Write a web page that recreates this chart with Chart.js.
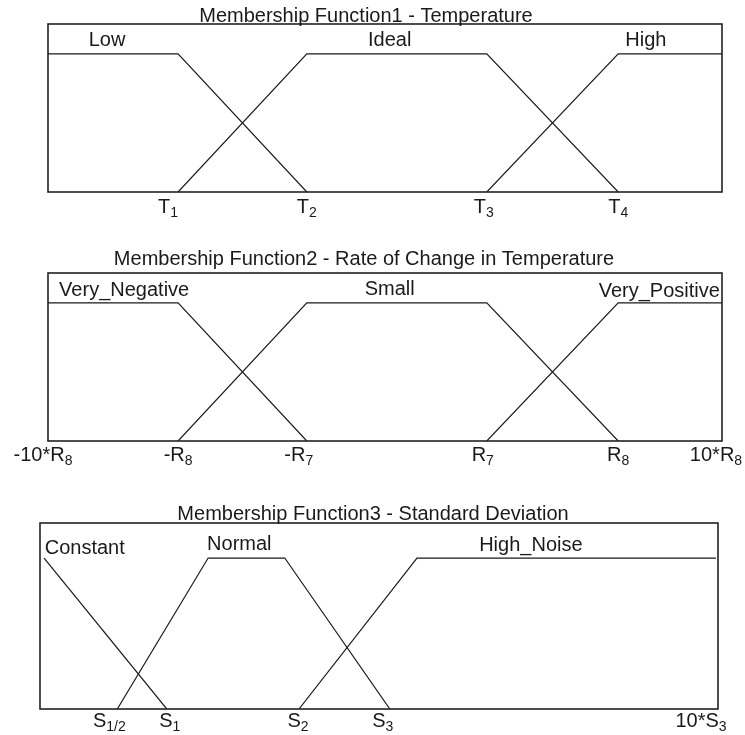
<!DOCTYPE html>
<html>
<head>
<meta charset="utf-8">
<script src="https://cdn.jsdelivr.net/npm/chart.js@4/dist/chart.umd.min.js"></script>
<style>
  html, body { margin: 0; padding: 0; background: #fff; }
  #wrap { position: relative; width: 745px; height: 735px; }
  canvas { position: absolute; left: 0; }
</style>
</head>
<body>
<div id="wrap">
  <canvas id="mf1" width="745" height="240" style="top:0px"></canvas>
  <canvas id="mf2" width="745" height="240" style="top:240px"></canvas>
  <canvas id="mf3" width="745" height="255" style="top:480px"></canvas>
</div>
<script>
// ---- data (x in arbitrary axis units 0..100, y = membership degree) ----

// Membership Function1 - Temperature
const tempTickBase = ['T', 'T', 'T', 'T']
const tempTickSub = ['1', '2', '3', '4']
const tempTickValues = [19.3, 38.4, 65.1, 84.6]
const tempSets = ['Low', 'Ideal', 'High']
const tempLowX = [0, 19.3, 38.4]
const tempLowY = [1, 1, 0]
const tempIdealX = [19.3, 38.4, 65.1, 84.6]
const tempIdealY = [0, 1, 1, 0]
const tempHighX = [65.1, 84.6, 100]
const tempHighY = [0, 1, 1]
const tempSetCenters = [8.75, 50.7, 88.7]

// Membership Function2 - Rate of Change in Temperature
const rateTickBase = ['-10*R', '-R', '-R', 'R', 'R', '10*R']
const rateTickSub = ['8', '8', '7', '7', '8', '8']
const rateTickValues = [0, 19.3, 38.4, 65.1, 84.6, 100]
const rateSets = ['Very_Negative', 'Small', 'Very_Positive']
const rateNegX = [0, 19.3, 38.4]
const rateNegY = [1, 1, 0]
const rateSmallX = [19.3, 38.4, 65.1, 84.6]
const rateSmallY = [0, 1, 1, 0]
const ratePosX = [65.1, 84.6, 100]
const ratePosY = [0, 1, 1]
const rateSetCenters = [11.3, 50.7, 90.7]

// Membership Function3 - Standard Deviation
const sdTickBase = ['S', 'S', 'S', 'S', '10*S']
const sdTickSub = ['1/2', '1', '2', '3', '3']
const sdTickValues = [11.4, 18.7, 38.2, 51.6, 100]
const sdSets = ['Constant', 'Normal', 'High_Noise']
const sdConstX = [0.6, 18.7]
const sdConstY = [1, 0]
const sdNormalX = [11.4, 24.8, 36.1, 51.6]
const sdNormalY = [0, 1, 1, 0]
const sdNoiseX = [38.2, 55.6, 99.7]
const sdNoiseY = [0, 1, 1]
const sdSetCenters = [6.6, 29.4, 72.4]

// ---- drawing ----
const FONT = '"Liberation Sans", Arial, Helvetica, sans-serif'
const INK = '#1a1a1a'

function pts(xs, ys){
  return xs.map((x, i) => ({x: x, y: ys[i]}))
}

function lineSet(xs, ys){
  return {
    data: pts(xs, ys),
    borderColor: INK,
    borderWidth: 1.2,
    pointRadius: 0,
    fill: false,
    tension: 0
  }
}

// text with an optional subscript, centred on x
function drawSubText(ctx, base, sub, x, y){
  ctx.font = '20px ' + FONT
  const wb = ctx.measureText(base).width
  ctx.font = '14px ' + FONT
  const ws = sub ? ctx.measureText(sub).width : 0
  let left = x - (wb + ws) / 2
  ctx.textAlign = 'left'
  ctx.textBaseline = 'alphabetic'
  ctx.font = '20px ' + FONT
  ctx.fillText(base, left, y)
  if (sub){
    ctx.font = '14px ' + FONT
    ctx.fillText(sub, left + wb, y + 4)
  }
}

const fuzzyDecor = {
  id: 'fuzzyDecor',
  afterDatasetsDraw(chart, args, o){
    const ctx = chart.ctx
    const a = chart.chartArea
    const xs = chart.scales.x, ys = chart.scales.y
    ctx.save()
    // frame
    ctx.strokeStyle = '#222'
    ctx.lineWidth = 1.6
    ctx.strokeRect(a.left, a.top, a.right - a.left, a.bottom - a.top)
    ctx.fillStyle = INK
    // title
    ctx.font = '20px ' + FONT
    ctx.textAlign = 'center'
    ctx.textBaseline = 'alphabetic'
    ctx.fillText(o.title, o.titleX, o.titleBaseline)
    // set names above the plateau
    const top = ys.getPixelForValue(1)
    o.sets.forEach((s, i) => {
      ctx.font = '20px ' + FONT
      ctx.textAlign = 'center'
      ctx.fillText(s, xs.getPixelForValue(o.setCenters[i]), top - o.setLift[i])
    })
    // tick labels under the axis
    o.tickValues.forEach((v, i) => {
      const px = xs.getPixelForValue(v) + (o.tickNudge[i] || 0)
      drawSubText(ctx, o.tickBase[i], o.tickSub[i], px, a.bottom + o.tickGap)
    })
    ctx.restore()
  }
}

function renderMF(canvas_id, datasets, padding, ymax, decor){
  new Chart(document.getElementById(canvas_id), {
    type: 'line',
    data: { datasets: datasets },
    options: {
      responsive: false,
      animation: false,
      devicePixelRatio: 1,
      layout: { padding: padding },
      scales: {
        x: { type: 'linear', min: 0, max: 100, display: false },
        y: { min: 0, max: ymax, display: false }
      },
      plugins: {
        legend: { display: false },
        tooltip: { enabled: false },
        fuzzyDecor: decor
      }
    },
    plugins: [fuzzyDecor]
  })
}

renderMF('mf1',
  [lineSet(tempLowX, tempLowY), lineSet(tempIdealX, tempIdealY), lineSet(tempHighX, tempHighY)],
  {top: 24, bottom: 48, left: 48, right: 23}, 1.217,
  {
    title: 'Membership Function1 - Temperature', titleX: 366, titleBaseline: 22,
    sets: tempSets, setCenters: tempSetCenters, setLift: [8, 8, 8],
    tickBase: tempTickBase, tickSub: tempTickSub, tickValues: tempTickValues,
    tickNudge: [-10, 0, -3, 0], tickGap: 21
  })

renderMF('mf2',
  [lineSet(rateNegX, rateNegY), lineSet(rateSmallX, rateSmallY), lineSet(ratePosX, ratePosY)],
  {top: 33, bottom: 39, left: 48, right: 23}, 1.217,
  {
    title: 'Membership Function2 - Rate of Change in Temperature', titleX: 364, titleBaseline: 25,
    sets: rateSets, setCenters: rateSetCenters, setLift: [7, 8, 6],
    tickBase: rateTickBase, tickSub: rateTickSub, tickValues: rateTickValues,
    tickNudge: [-5, 0, -8, -4, 0, -6], tickGap: 20
  })

renderMF('mf3',
  [lineSet(sdConstX, sdConstY), lineSet(sdNormalX, sdNormalY), lineSet(sdNoiseX, sdNoiseY)],
  {top: 43, bottom: 26, left: 40, right: 27}, 1.232,
  {
    title: 'Membership Function3 - Standard Deviation', titleX: 373, titleBaseline: 40,
    sets: sdSets, setCenters: sdSetCenters, setLift: [4, 8, 7],
    tickBase: sdTickBase, tickSub: sdTickSub, tickValues: sdTickValues,
    tickNudge: [-8, 3, -1, -7, -17], tickGap: 18
  })
</script>
</body>
</html>
